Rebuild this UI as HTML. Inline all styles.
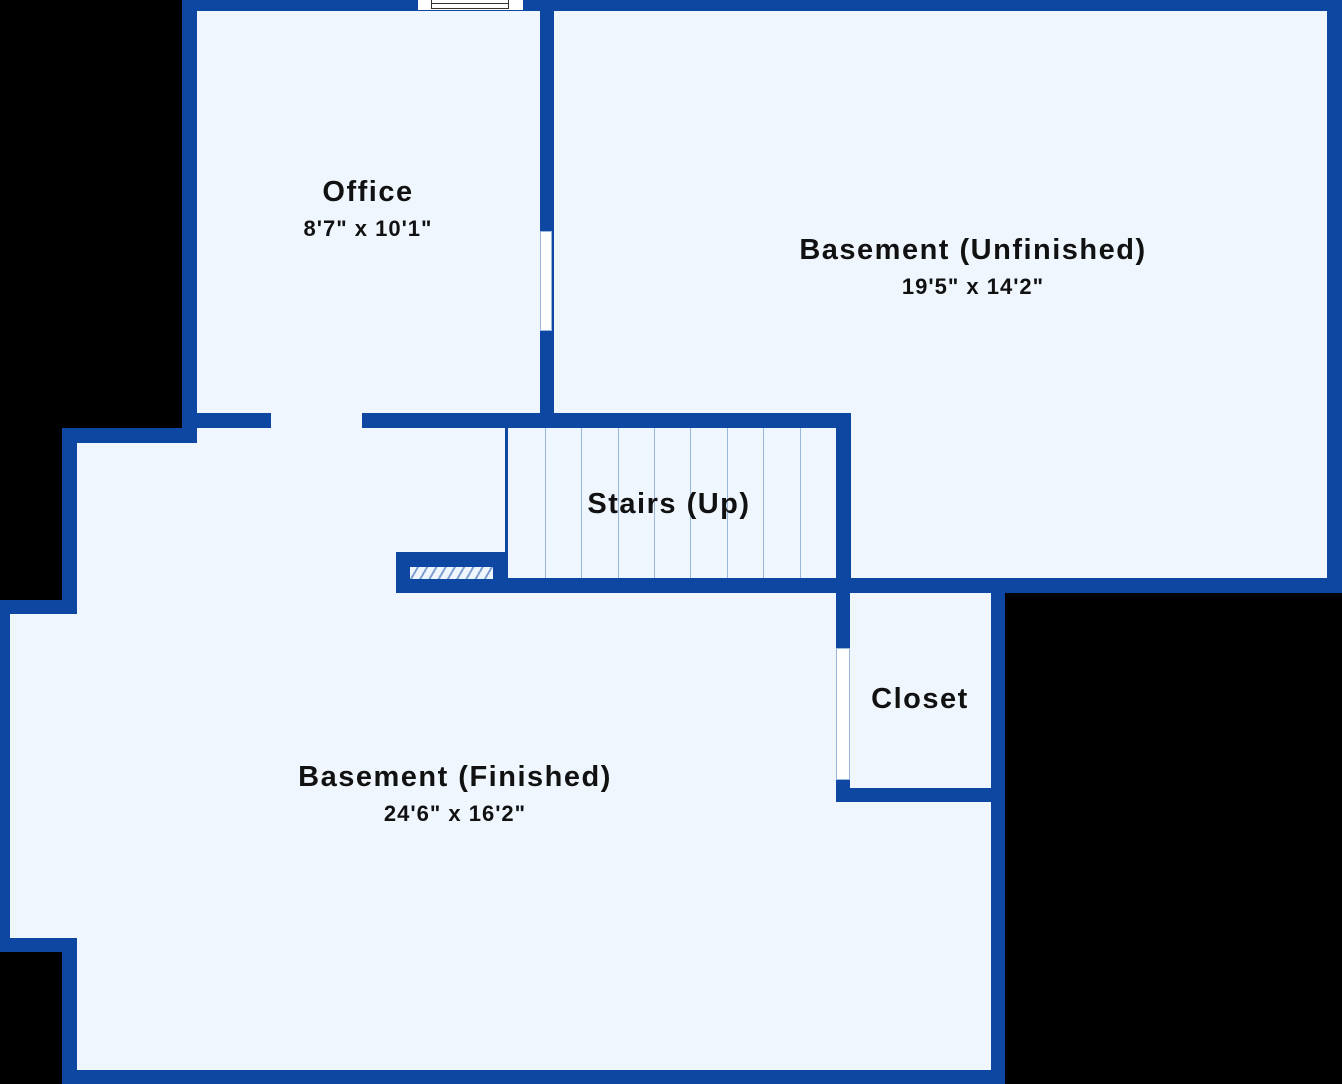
<!DOCTYPE html>
<html><head><style>
body{margin:0;width:1342px;height:1084px;background:#000;position:relative;overflow:hidden;font-family:"Liberation Sans",sans-serif}
div{position:absolute}
.f{background:#eff6fe}
.w{background:#0e47a1}
.t{color:#111;font-weight:bold;text-align:center;transform:translateX(-50%);white-space:nowrap}
.t div{position:static}
.n{font-size:29px;letter-spacing:1.5px}
.d{font-size:22px;margin-top:7px;letter-spacing:1px}
.sl{background:#9bb6dc;width:1px;top:428px;height:150px}
</style></head><body>
<div class="f" style="left:182px;top:0;width:372px;height:443px"></div>
<div class="f" style="left:540px;top:0;width:802px;height:593px"></div>
<div class="f" style="left:62px;top:428px;width:943px;height:656px"></div>
<div class="f" style="left:0;top:600px;width:77px;height:352px"></div>
<div class="w" style="left:182px;top:0;width:1160px;height:11px"></div>
<div class="w" style="left:182px;top:0;width:15px;height:443px"></div>
<div class="w" style="left:540px;top:0;width:14px;height:428px"></div>
<div class="w" style="left:1327px;top:0;width:15px;height:593px"></div>
<div class="w" style="left:182px;top:413px;width:89px;height:15px"></div>
<div class="w" style="left:362px;top:413px;width:489px;height:15px"></div>
<div class="w" style="left:836px;top:413px;width:15px;height:180px"></div>
<div class="w" style="left:500px;top:578px;width:842px;height:15px"></div>
<div class="w" style="left:505px;top:428px;width:3px;height:150px"></div>
<div class="w" style="left:396px;top:552px;width:112px;height:41px"></div>
<div style="left:410px;top:567px;width:83px;height:12px;background:repeating-linear-gradient(-60deg,#eff6fe 0 6px,#7f9fd0 6px 8px)"></div>
<div class="w" style="left:62px;top:428px;width:135px;height:15px"></div>
<div class="w" style="left:62px;top:428px;width:15px;height:186px"></div>
<div class="w" style="left:0;top:600px;width:77px;height:14px"></div>
<div class="w" style="left:0;top:600px;width:10px;height:352px"></div>
<div class="w" style="left:0;top:938px;width:77px;height:14px"></div>
<div class="w" style="left:62px;top:938px;width:15px;height:146px"></div>
<div class="w" style="left:62px;top:1070px;width:943px;height:14px"></div>
<div class="w" style="left:991px;top:578px;width:14px;height:506px"></div>
<div class="w" style="left:836px;top:593px;width:14px;height:209px"></div>
<div class="w" style="left:836px;top:788px;width:169px;height:14px"></div>
<div style="left:540px;top:231px;width:12px;height:100px;background:#fff;border:1px solid #9bb6dc;box-sizing:border-box"></div>
<div style="left:836px;top:648px;width:14px;height:132px;background:#fff;border:1px solid #9bb6dc;box-sizing:border-box"></div>
<div style="left:418px;top:0;width:105px;height:10px;background:#fff"></div>
<div style="left:431px;top:0;width:78px;height:9px;border:1px solid #333;border-top:none;box-sizing:border-box;background:linear-gradient(#fff 0 3px,#333 3px 4px,#fff 4px)"></div>
<div class="sl" style="left:545px"></div><div class="sl" style="left:581px"></div><div class="sl" style="left:618px"></div><div class="sl" style="left:654px"></div><div class="sl" style="left:690px"></div><div class="sl" style="left:727px"></div><div class="sl" style="left:763px"></div><div class="sl" style="left:800px"></div>
<div class="t" style="left:368px;top:176px"><div class="n">Office</div><div class="d">8'7" x 10'1"</div></div>
<div class="t" style="left:973px;top:234px"><div class="n">Basement (Unfinished)</div><div class="d">19'5" x 14'2"</div></div>
<div class="t" style="left:669px;top:488px"><div class="n">Stairs (Up)</div></div>
<div class="t" style="left:920px;top:683px"><div class="n">Closet</div></div>
<div class="t" style="left:455px;top:761px"><div class="n">Basement (Finished)</div><div class="d">24'6" x 16'2"</div></div>
</body></html>
